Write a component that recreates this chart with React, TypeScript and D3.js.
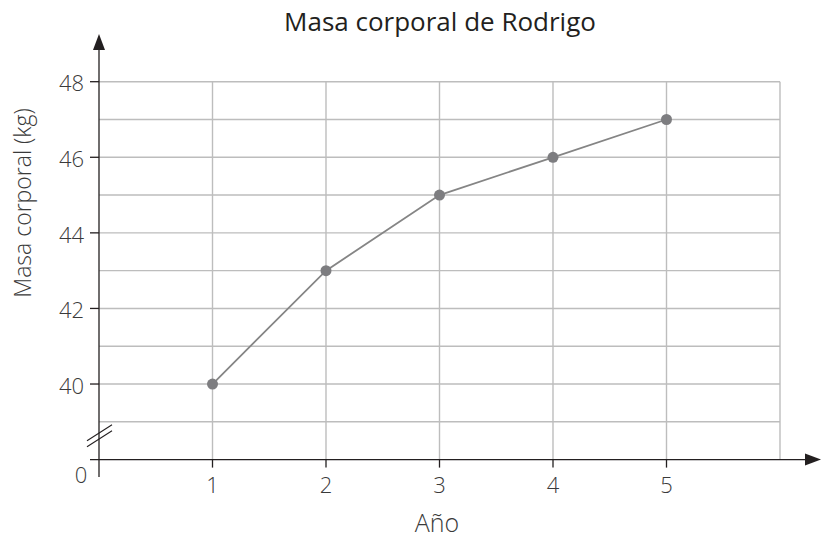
import React from "react";
import * as d3 from "d3";

const years = [1, 2, 3, 4, 5];
const mass = [40, 43, 45, 46, 47];
const yTickValues = [40, 42, 44, 46, 48];
const yGridValues = [39, 40, 41, 42, 43, 44, 45, 46, 47, 48];
const xGridValues = [1, 2, 3, 4, 5, 6];
const title = "Masa corporal de Rodrigo";
const xLabel = "Año";
const yLabel = "Masa corporal (kg)";

const W = 821;
const H = 538;
const FONT = "'Open Sans', sans-serif";

export default function App() {
  const x = d3.scaleLinear().domain([0, 6]).range([99, 780]);
  const y = d3.scaleLinear().domain([38, 48]).range([459.6, 81.7]);
  const line = d3
    .line<number>()
    .x((_, i) => x(years[i]))
    .y((d) => y(d));
  const x0 = x(0);
  const y0 = y(38);
  const gridColor = "#bdbdbd";
  const axisColor = "#231f20";
  const textColor = "#3a3a3a";
  const yBreak = y(38.55);

  return (
    <svg
      width={W}
      height={H}
      style={{ position: "absolute", left: 0, top: 0, display: "block" }}
      fontFamily={FONT}
    >
      <rect width={W} height={H} fill="#fff" />
      {/* grid */}
      {yGridValues.map((v) => (
        <line key={"h" + v} x1={x0} x2={x(6)} y1={y(v)} y2={y(v)} stroke={gridColor} strokeWidth={1.4} />
      ))}
      {xGridValues.map((v) => (
        <line key={"v" + v} x1={x(v)} x2={x(v)} y1={y(48)} y2={y0} stroke={gridColor} strokeWidth={1.4} />
      ))}
      {/* axes */}
      <line x1={x0} x2={x0} y1={477} y2={48} stroke={axisColor} strokeWidth={1.3} />
      <path d={`M${x0},34 L${x0 - 6},50 L${x0 + 6},50 Z`} fill={axisColor} />
      <line x1={90} x2={812} y1={y0} y2={y0} stroke={axisColor} strokeWidth={1.3} />
      <path d={`M821,${y0} L805,${y0 - 6} L805,${y0 + 6} Z`} fill={axisColor} />
      {/* break marks */}
      {[0, 6].map((o) => (
        <line
          key={"b" + o}
          x1={87}
          x2={112}
          y1={yBreak + 8 - o}
          y2={yBreak - 8 - o}
          stroke={axisColor}
          strokeWidth={1.1}
        />
      ))}
      {/* y ticks */}
      {yTickValues.map((v) => (
        <g key={"yt" + v}>
          <line x1={x0 - 9} x2={x0} y1={y(v)} y2={y(v)} stroke={axisColor} strokeWidth={1.3} />
          <text x={84} y={y(v) + 2} dy="0.35em" textAnchor="end" fontSize={22} fontWeight={300} fill={textColor}>
            {v}
          </text>
        </g>
      ))}
      <text x={81} y={475} dy="0.35em" textAnchor="middle" fontSize={22} fontWeight={300} fill={textColor}>
        0
      </text>
      {/* x ticks */}
      {years.map((v) => (
        <g key={"xt" + v}>
          <line x1={x(v)} x2={x(v)} y1={y0} y2={y0 + 8} stroke={axisColor} strokeWidth={1.3} />
          <text x={x(v)} y={485} dy="0.35em" textAnchor="middle" fontSize={22} fontWeight={300} fill={textColor}>
            {v}
          </text>
        </g>
      ))}
      {/* data */}
      <path d={line(mass) || ""} fill="none" stroke="#858585" strokeWidth={1.8} />
      {mass.map((m, i) => (
        <circle key={"p" + i} cx={x(years[i])} cy={y(m)} r={5.5} fill="#7d7d80" />
      ))}
      {/* labels */}
      <text x={440} y={31} textAnchor="middle" fontSize={26} fill="#231f20">
        {title}
      </text>
      <text x={437} y={532} textAnchor="middle" fontSize={25} fontWeight={300} fill={textColor}>
        {xLabel}
      </text>
      <text
        transform={`translate(23,${203}) rotate(-90)`}
        dy="0.35em"
        textAnchor="middle"
        fontSize={23}
        fontWeight={300}
        fill={textColor}
      >
        {yLabel}
      </text>
    </svg>
  );
}
